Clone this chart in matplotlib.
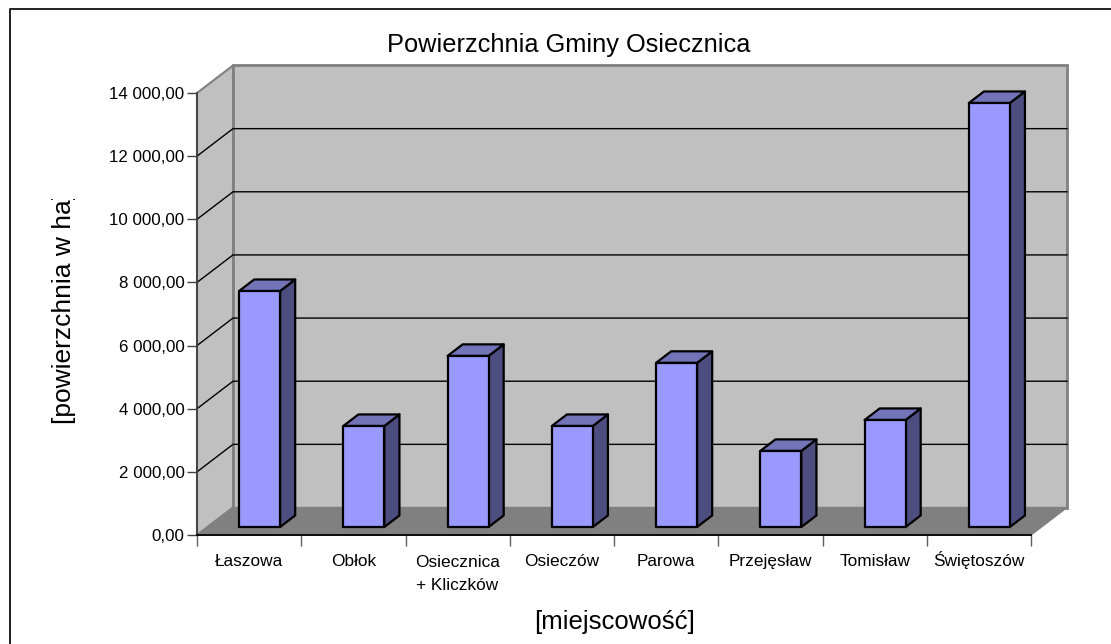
import matplotlib
matplotlib.use("Agg")
import matplotlib.pyplot as plt
from matplotlib.patches import Polygon
from matplotlib.transforms import Bbox, ScaledTranslation

plt.rcParams['font.family'] = ['Liberation Sans', 'DejaVu Sans']

categories = ["Łaszowa", "Obłok", "Osiecznica\n+ Kliczków", "Osieczów", "Parowa",
              "Przejęsław", "Tomisław", "Świętoszów"]
values = [7475, 3200, 5420, 3200, 5200, 2410, 3390, 13430]
y_ticks = [0, 2000, 4000, 6000, 8000, 10000, 12000, 14000]

# chart plane in pixels, the back wall sits behind it by depth_x / depth_y
W, H = 1111, 644
left, right, bottom, top = 197, 1031, 535, 93
depth_x_px, depth_y_px = 36, 27.5

fig = plt.figure(figsize=(W / 100, H / 100), dpi=100)
ax = fig.add_axes([left / W, 1 - bottom / H, (right - left) / W, (bottom - top) / H])
ax.set_xlim(0, len(categories))
ax.set_ylim(0, 14000)
ax.patch.set_visible(False)

dx = depth_x_px * len(categories) / (right - left)
dy = depth_y_px * 14000 / (bottom - top)


def pt(x, y, d):
    return (x + d * dx, y + d * dy)


def face(points, **kw):
    ax.add_patch(Polygon(points, closed=True, clip_on=False, **kw))


n = len(categories)
wall = '#c0c0c0'
floor = '#808080'

# walls and floor
face([pt(0, 0, 0), pt(0, 0, 1), pt(0, 14000, 1), pt(0, 14000, 0)], fc=wall, ec=floor, lw=1.5, zorder=1)
face([pt(0, 0, 1), pt(n, 0, 1), pt(n, 14000, 1), pt(0, 14000, 1)], fc=wall, ec=floor, lw=2, zorder=1)
face([pt(0, 0, 0), pt(n, 0, 0), pt(n, 0, 1), pt(0, 0, 1)], fc=floor, ec=floor, lw=1, zorder=2)

# gridlines on back wall and left wall
for v in y_ticks[1:-1]:
    xs, ys = zip(pt(0, v, 0), pt(0, v, 1), pt(n, v, 1))
    ax.plot(xs, ys, color='black', lw=1, clip_on=False, zorder=3)

# bars
bar_w = 41 * n / (right - left)
d0, d1 = 0.29, 0.71
for i, v in enumerate(values):
    x0 = i + 0.5 - bar_w / 2
    x1 = x0 + bar_w
    style = dict(ec='black', lw=1.6, joinstyle='round', zorder=5)
    face([pt(x1, 0, d0), pt(x1, 0, d1), pt(x1, v, d1), pt(x1, v, d0)], fc='#4d4d80', **style)
    face([pt(x0, v, d0), pt(x1, v, d0), pt(x1, v, d1), pt(x0, v, d1)], fc='#7373b8', **style)
    face([pt(x0, 0, d0), pt(x1, 0, d0), pt(x1, v, d0), pt(x0, v, d0)], fc='#9999ff', **style)

# axes
for s in ('top', 'right'):
    ax.spines[s].set_visible(False)
ax.spines['left'].set_color('#404040')
ax.spines['left'].set_linewidth(1.3)
ax.spines['bottom'].set_color('black')
ax.spines['bottom'].set_linewidth(1.3)
for s in ax.spines.values():
    s.set_zorder(6)

ax.set_yticks(y_ticks)
ax.set_yticklabels([f"{v:,.2f}".replace(",", " ").replace(".", ",") for v in y_ticks], fontsize=12.2)
ax.tick_params(axis='y', length=7, width=1, color='#404040', pad=2, labelcolor='black')

ax.set_xticks([i + 0.5 for i in range(n)])
ax.set_xticklabels(categories, fontsize=12.4, linespacing=1.65, va='baseline')
ax.set_xticks(range(n + 1), minor=True)
ax.tick_params(axis='x', which='major', length=0, pad=22.2)
ax.tick_params(axis='x', which='minor', length=8, width=1, color='#606060')

# baseline alignment goes by the last line, push two-line labels down a line
for lab in ax.get_xticklabels():
    if "\n" in lab.get_text():
        lab.set_transform(lab.get_transform() + ScaledTranslation(0, -0.24, fig.dpi_scale_trans))

fig.text(569 / W, 1 - 45 / H, "Powierzchnia Gminy Osiecznica", fontsize=18.3, ha='center', va='center')
fig.text(615 / W, 1 - 622 / H, "[miejscowość]", fontsize=18.5, ha='center', va='center')

# y title is cut off at the top in the original
ylab = fig.text(64 / W, 1 - 307.5 / H, "[powierzchnia w ha]", fontsize=19, rotation=90,
                ha='center', va='center', clip_on=True)
ylab.set_clip_box(Bbox([[0, 0], [W, H - 199]]))

# outer frame, left and top edges
fig.add_artist(plt.Line2D([9.5 / W, 9.5 / W, 1], [0, 1 - 8.5 / H, 1 - 8.5 / H], color='#202020', lw=1.4))

fig.savefig("out.png", dpi=100)
